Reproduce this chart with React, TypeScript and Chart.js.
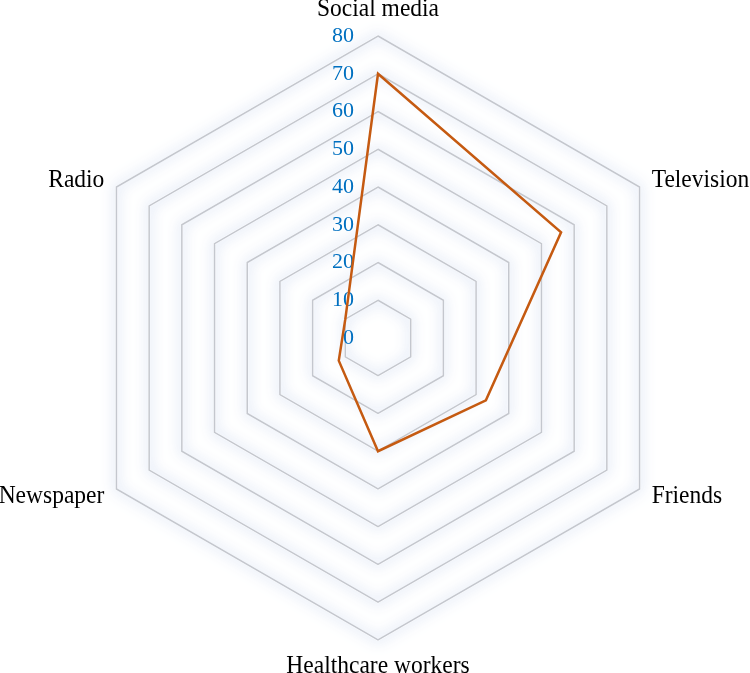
import React, { useEffect, useRef } from "react";
import { Chart, registerables } from "chart.js";

Chart.register(...registerables);

const categories = ["Social media", "Television", "Friends", "Healthcare workers", "Newspaper", "Radio"];
const seriesValues = [70, 56, 33, 30, 12, 10];
const tickMin = 0;
const tickMax = 80;
const tickStep = 10;

const FONT = "'Liberation Serif', 'Times New Roman', serif";
const LABEL_SIZE = 23.5;
const LABEL_STRETCH = 1.08;

const glowTicksLabels = {
  id: "glowTicksLabels",
  beforeDraw(chart: any) {
    const s = chart.scales.r;
    const ctx = chart.ctx;
    ctx.save();
    ctx.shadowColor = "rgba(140,168,220,0.85)";
    ctx.shadowBlur = 13;
    ctx.strokeStyle = "rgba(255,255,255,1)";
    ctx.lineWidth = 2;
    s.ticks.forEach((t: any, i: number) => {
      if (i === 0) return;
      const d = s.getDistanceFromCenterForValue(t.value);
      ctx.beginPath();
      for (let k = 0; k < categories.length; k++) {
        const p = s.getPointPosition(k, d);
        if (k === 0) ctx.moveTo(p.x, p.y);
        else ctx.lineTo(p.x, p.y);
      }
      ctx.closePath();
      ctx.stroke();
    });
    ctx.restore();
  },
  beforeDatasetsDraw(chart: any) {
    const s = chart.scales.r;
    const ctx = chart.ctx;
    ctx.save();
    // tick labels
    ctx.fillStyle = "#0070C0";
    ctx.font = `22px ${FONT}`;
    ctx.textAlign = "right";
    ctx.textBaseline = "middle";
    s.ticks.forEach((t: any) => {
      const d = s.getDistanceFromCenterForValue(t.value);
      ctx.fillText(String(t.value), s.xCenter - 24, s.yCenter - d);
    });
    // point labels
    ctx.fillStyle = "#000000";
    ctx.font = `${LABEL_SIZE}px ${FONT}`;
    const h = LABEL_SIZE * LABEL_STRETCH;
    categories.forEach((label, i) => {
      const p = s.getPointPosition(i, s.drawingArea + 14);
      const dx = p.x - s.xCenter;
      const dy = p.y - s.yCenter;
      let y = p.y;
      let align: CanvasTextAlign = "center";
      if (Math.abs(dx) < 1) {
        y = dy < 0 ? p.y - h / 2 : p.y + h / 2;
      } else {
        align = dx > 0 ? "left" : "right";
      }
      ctx.save();
      ctx.textAlign = align;
      ctx.textBaseline = "middle";
      ctx.translate(p.x, y);
      ctx.scale(1, LABEL_STRETCH);
      ctx.fillText(label, 0, 0);
      ctx.restore();
    });
    ctx.restore();
  },
};

export default function App() {
  const ref = useRef<HTMLCanvasElement>(null);
  useEffect(() => {
    const chart = new Chart(ref.current!, {
      type: "radar",
      data: {
        labels: categories,
        datasets: [
          {
            data: seriesValues,
            borderColor: "#C55A11",
            borderWidth: 2.5,
            backgroundColor: "rgba(0,0,0,0)",
            fill: false,
            pointRadius: 0,
            pointHoverRadius: 0,
          },
        ],
      },
      options: {
        animation: false,
        responsive: true,
        maintainAspectRatio: false,
        layout: { padding: { top: 36, bottom: 33, left: 28, right: 22 } },
        plugins: { legend: { display: false }, tooltip: { enabled: false } },
        scales: {
          r: {
            min: tickMin,
            max: tickMax,
            ticks: { stepSize: tickStep, display: false },
            angleLines: { display: false },
            grid: { color: "#C4C7CE", lineWidth: 1.5 },
            pointLabels: { display: false },
          },
        },
      },
      plugins: [glowTicksLabels],
    });
    return () => chart.destroy();
  }, []);
  return (
    <div style={{ position: "absolute", left: 0, top: 0, width: 750, height: 673, background: "#fff" }}>
      <canvas ref={ref} />
    </div>
  );
}
